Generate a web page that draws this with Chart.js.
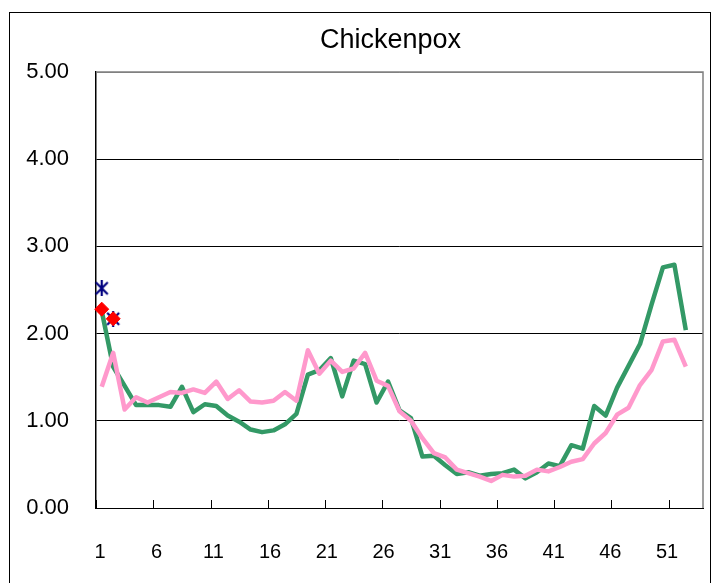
<!DOCTYPE html>
<html>
<head>
<meta charset="utf-8">
<script src="https://cdn.jsdelivr.net/npm/chart.js@4.4.0/dist/chart.umd.min.js"></script>
<style>
  html, body { margin: 0; padding: 0; background: #fff; }
  canvas { display: block; }
</style>
</head>
<body>
<canvas id="chart" width="719" height="583"></canvas>
<script>
// week numbers (53-week season, labels every 5th)
const weeks = ['1','2','3','4','5','6','7','8','9','10','11','12','13','14','15','16','17','18','19','20',
  '21','22','23','24','25','26','27','28','29','30','31','32','33','34','35','36','37','38','39','40',
  '41','42','43','44','45','46','47','48','49','50','51','52','53'];
const weekLabels = [1, 6, 11, 16, 21, 26, 31, 36, 41, 46, 51];
const yTicks = [0, 1, 2, 3, 4, 5];
const chartTitle = 'Chickenpox';

// current season (red diamonds) and previous report (navy stars)
const currentSeason = [2.28, 2.17];
const previousReport = [2.52, 2.17];

// last season (green)
const lastSeason = [2.26, 1.62, 1.40, 1.18, 1.18, 1.18, 1.16, 1.39, 1.10, 1.19,
  1.17, 1.06, 0.99, 0.90, 0.87, 0.89, 0.96, 1.08, 1.53, 1.58,
  1.72, 1.28, 1.69, 1.65, 1.21, 1.45, 1.12, 1.03, 0.59, 0.60,
  0.49, 0.39, 0.41, 0.37, 0.39, 0.40, 0.44, 0.34, 0.41, 0.51,
  0.48, 0.72, 0.68, 1.17, 1.06, 1.38, 1.63, 1.88, 2.33, 2.76,
  2.79, 2.04];

// past years average (pink)
const pastAverage = [1.39, 1.78, 1.13, 1.27, 1.21, 1.27, 1.33, 1.32, 1.36, 1.32,
  1.45, 1.25, 1.35, 1.22, 1.21, 1.23, 1.33, 1.23, 1.81, 1.54,
  1.69, 1.56, 1.60, 1.78, 1.46, 1.40, 1.11, 1.00, 0.80, 0.63,
  0.58, 0.44, 0.40, 0.36, 0.31, 0.38, 0.36, 0.37, 0.44, 0.42,
  0.47, 0.53, 0.56, 0.74, 0.86, 1.07, 1.15, 1.41, 1.58, 1.91,
  1.93, 1.62];

const FONT = "'Liberation Sans', Arial, sans-serif";

// asterisk marker like Excel's star
function starMarker() {
  const c = document.createElement('canvas');
  c.width = 16; c.height = 16;
  const g = c.getContext('2d');
  g.strokeStyle = '#000080';
  g.lineWidth = 2.2;
  g.beginPath();
  g.moveTo(2, 2); g.lineTo(14, 14);
  g.moveTo(14, 2); g.lineTo(2, 14);
  g.moveTo(8, 0); g.lineTo(8, 16);
  g.stroke();
  return c;
}

const frame = {
  id: 'frame',
  beforeDraw(chart) {
    const c = chart.ctx;
    c.save();
    c.fillStyle = '#fff';
    c.fillRect(0, 0, chart.width, chart.height);
    c.strokeStyle = '#000';
    c.lineWidth = 1;
    c.strokeRect(9.5, 12.5, 701, 600);
    c.restore();
  },
  afterDraw(chart) {
    const { ctx: c, chartArea: a, scales: { x } } = chart;
    c.save();
    c.strokeStyle = '#808080';
    c.lineWidth = 1.5;
    c.beginPath();
    c.moveTo(a.left, a.top); c.lineTo(a.right, a.top); c.lineTo(a.right, a.bottom);
    c.stroke();
    // tick marks at category boundaries, every 5 weeks
    c.strokeStyle = '#000';
    c.lineWidth = 1;
    const half = (x.getPixelForValue(1) - x.getPixelForValue(0)) / 2;
    for (let i = 0; i < weeks.length; i += 5) {
      const px = Math.round(x.getPixelForValue(i) - half) + 0.5;
      c.beginPath(); c.moveTo(px, a.bottom - 8); c.lineTo(px, a.bottom); c.stroke();
    }
    // title, centred over the plot area as in the original
    c.fillStyle = '#000';
    c.font = '27px ' + FONT;
    c.textAlign = 'center';
    c.textBaseline = 'middle';
    c.fillText(chartTitle, a.left + (a.right - a.left) / 2 - 9, 41);
    c.restore();
  }
};

new Chart(document.getElementById('chart'), {
  type: 'line',
  data: {
    labels: weeks,
    datasets: [
      { data: currentSeason, showLine: false, pointStyle: 'rectRot', pointRadius: 7,
        backgroundColor: '#ff0000', borderColor: '#ff0000', borderWidth: 1 },
      { data: previousReport, showLine: false, pointStyle: starMarker(), pointRadius: 8,
        borderColor: '#000080', backgroundColor: '#000080' },
      { data: pastAverage, borderColor: '#ff99cc', borderWidth: 4.5, pointRadius: 0,
        tension: 0, borderJoinStyle: 'round', fill: false },
      { data: lastSeason, borderColor: '#339966', borderWidth: 4.5, pointRadius: 0,
        tension: 0, borderJoinStyle: 'round', fill: false }
    ]
  },
  options: {
    responsive: false,
    animation: false,
    layout: { padding: { left: 0, right: 16, top: 72, bottom: 0 } },
    plugins: {
      legend: { display: false },
      tooltip: { enabled: false },
      title: { display: false }
    },
    scales: {
      x: {
        offset: true,
        grid: { display: false },
        border: { display: true, color: '#000', width: 1 },
        ticks: { display: false },
        afterFit: s => { s.height = 0; s.paddingLeft = 0; s.paddingRight = 0; }
      },
      // label axis: Excel spaces the week labels a touch tighter than the categories
      xLabels: {
        type: 'linear', position: 'bottom',
        min: 0.65, max: 54.17,
        afterBuildTicks: s => { s.ticks = weekLabels.map(v => ({ value: v })); },
        grid: { display: false },
        border: { display: false },
        ticks: {
          padding: 24, color: '#000', maxRotation: 0, autoSkip: false,
          font: { family: FONT, size: 20 },
          callback: v => String(v)
        },
        afterFit: s => { s.height = 75; s.paddingLeft = 0; s.paddingRight = 0; }
      },
      y: {
        min: yTicks[0], max: yTicks[yTicks.length - 1],
        afterBuildTicks: s => { s.ticks = yTicks.map(v => ({ value: v })); },
        grid: {
          drawTicks: false,
          color: c => (c.tick && c.tick.value === 5 ? '#808080' : '#000'),
          lineWidth: 1
        },
        border: { display: true, color: '#000', width: 1.5 },
        ticks: {
          padding: 27, color: '#000',
          font: { family: FONT, size: 22 },
          callback: v => Number(v).toFixed(2)
        },
        afterFit: s => { s.width = 96; s.paddingTop = 0; s.paddingBottom = 0; }
      }
    }
  },
  plugins: [frame]
});
</script>
</body>
</html>
